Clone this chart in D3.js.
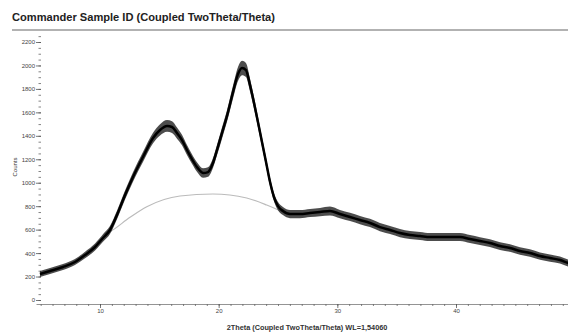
<!DOCTYPE html>
<html><head><meta charset="utf-8">
<script src="https://cdn.jsdelivr.net/npm/d3@7"></script>
<style>html,body{margin:0;padding:0;background:#fff}svg{display:block;font-family:"Liberation Sans",Arial,sans-serif}</style>
</head><body>
<svg id="c" width="568" height="334"></svg>
<script>
const chartTitle = "Commander Sample ID (Coupled TwoTheta/Theta)";
const xTitle = "2Theta (Coupled TwoTheta/Theta) WL=1,54060";
const yTitle = "Counts";

const twoTheta = [4.94,5.79,6.88,7.89,8.74,9.58,10.25,10.84,11.43,12.11,12.78,13.62,14.47,15.06,15.65,16.07,16.49,16.91,17.33,17.75,18.17,18.68,19.10,19.52,19.86,20.28,20.70,21.21,21.63,21.97,22.30,22.64,22.98,23.31,23.65,23.99,24.33,24.66,25.00,25.42,26.01,26.85,27.70,28.54,29.38,30.22,31.07,31.91,32.75,33.59,34.44,35.28,36.12,36.97,37.81,38.65,39.49,40.34,41.18,42.02,42.86,43.71,44.55,45.39,46.23,47.08,47.92,48.76,49.44,50.00];
const counts = [222,247,281,324,384,452,529,597,725,895,1049,1219,1381,1450,1484,1475,1424,1364,1279,1202,1134,1083,1091,1168,1279,1424,1569,1774,1927,1978,1961,1833,1680,1518,1347,1177,1006,878,801,759,733,733,742,750,759,733,708,682,657,622,597,571,554,546,537,537,537,537,520,503,486,460,443,418,401,375,358,341,316,300];
const spread = [25,25,25,25,28,30,32,34,36,38,40,42,45,48,50,50,48,45,42,40,40,40,40,42,45,48,50,55,60,62,60,55,50,45,40,38,36,35,35,35,35,35,35,35,38,35,35,35,35,35,35,35,34,34,34,34,34,34,34,33,33,33,32,32,32,31,31,30,30,30];

const bgTheta = [10.4,10.84,12.53,13.94,16.74,19.52,22.36,24.05,25.17,25.6];
const bgCounts = [560,582,705,795,887,904,870,810,761,740];

const xTickLabels = [10,20,30,40];
const yTickLabels = [0,200,400,600,800,1000,1200,1400,1600,1800,2000,2200];

const svg = d3.select("#c");
const x = d3.scaleLinear().domain([10,40]).range([100,456]);
const xAxisScale = x.copy().domain([x.invert(36), x.invert(570)]).range([36,570]);
const y = d3.scaleLinear().domain([0,2200]).range([300,42]);

// title
svg.append("text").attr("x",12).attr("y",21)
  .attr("font-size",11.1).attr("font-weight","bold").attr("fill","#222")
  .text(chartTitle);
svg.append("line").attr("x1",12).attr("x2",568).attr("y1",30).attr("y2",30)
  .attr("stroke","#999").attr("stroke-width",1.5);

// y axis
const yMinor = d3.range(0,2251,50);
svg.append("g").attr("transform","translate(41,0)")
  .call(d3.axisLeft(y).tickValues(yMinor).tickSize(2.5).tickFormat(""))
  .call(g=>g.select(".domain").remove())
  .call(g=>g.selectAll("line").attr("stroke","#666").attr("stroke-width",0.8));
svg.append("g").attr("transform","translate(41,0)")
  .call(d3.axisLeft(y).tickValues(yTickLabels).tickSize(5).tickPadding(1).tickFormat(d3.format("d")))
  .call(g=>g.select(".domain").remove())
  .call(g=>g.selectAll("line").attr("stroke","#555").attr("stroke-width",0.8))
  .call(g=>g.selectAll("text").attr("font-size",6).attr("fill","#444").attr("font-family","Liberation Sans, Arial, sans-serif"));

// x axis
const xMinor = d3.range(5,51,1);
svg.append("g").attr("transform","translate(0,304)")
  .call(d3.axisBottom(xAxisScale).tickValues(xMinor).tickSize(2).tickSizeOuter(0).tickFormat(""))
  .call(g=>g.select(".domain").attr("stroke","#888").attr("stroke-width",0.9))
  .call(g=>g.selectAll(".tick line").attr("stroke","#666").attr("stroke-width",0.8));
svg.append("g").attr("transform","translate(0,304)")
  .call(d3.axisBottom(xAxisScale).tickValues(xTickLabels).tickSize(4).tickPadding(0.5).tickFormat(d3.format("d")))
  .call(g=>g.select(".domain").remove())
  .call(g=>g.selectAll("line").attr("stroke","#555").attr("stroke-width",0.8))
  .call(g=>g.selectAll("text").attr("font-size",6).attr("fill","#444").attr("font-family","Liberation Sans, Arial, sans-serif"));

// axis titles
svg.append("text").attr("x",307).attr("y",330).attr("text-anchor","middle")
  .attr("font-size",7.3).attr("font-weight","bold").attr("fill","#333").text(xTitle);
svg.append("text").attr("transform","translate(17,167) rotate(-90)").attr("text-anchor","middle")
  .attr("font-size",6).attr("fill","#333").text(yTitle);

// background curve
svg.append("path").datum(bgTheta.map((t,i)=>[t,bgCounts[i]]))
  .attr("fill","none").attr("stroke","#bbb").attr("stroke-width",1.2)
  .attr("d", d3.line().x(d=>x(d[0])).y(d=>y(d[1])).curve(d3.curveMonotoneX));

// data
const data = twoTheta.map((t,i)=>({t, c:counts[i], s:spread[i]}));
svg.append("path").datum(data).attr("fill","#111").attr("fill-opacity",0.75)
  .attr("d", d3.area().x(d=>x(d.t)).y0(d=>y(d.c-d.s)).y1(d=>y(d.c+d.s)).curve(d3.curveMonotoneX));
svg.append("path").datum(data).attr("fill","none").attr("stroke","#000").attr("stroke-width",2.5)
  .attr("stroke-linejoin","round")
  .attr("d", d3.line().x(d=>x(d.t)).y(d=>y(d.c)).curve(d3.curveMonotoneX));
</script>
</body></html>
